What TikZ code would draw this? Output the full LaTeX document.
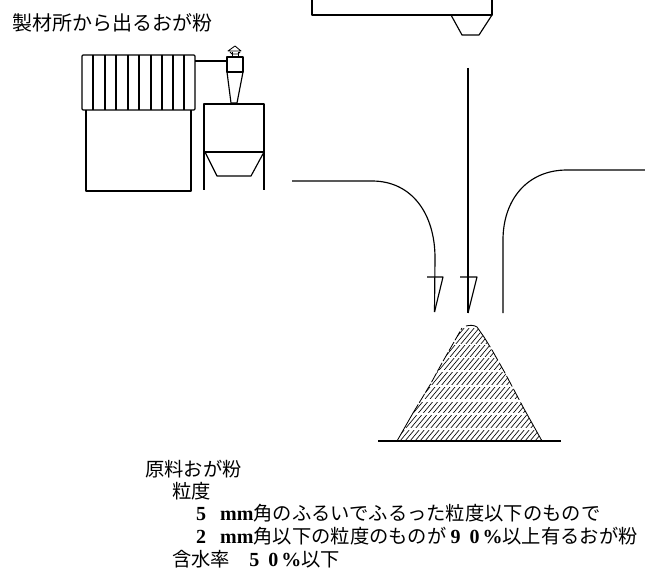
\documentclass[tikz,border=0pt]{standalone}
\usepackage{fontspec}
\setmainfont{Noto Sans CJK JP}
\newfontfamily\latinfont{Liberation Serif}[Scale=1.0]
\newcommand{\lt}[1]{{\latinfont\bfseries\fontsize{20pt}{22pt}\selectfont #1}}
\tikzset{
  ln/.style={line width=1.15pt,line join=round,black},
  thin ln/.style={line width=.85pt,line join=round,black},
  hatchln/.style={line width=.65pt,black},
  lbl/.style={anchor=base west,inner sep=0pt,font=\fontsize{19.3pt}{22pt}\selectfont,text=black},
  ttl/.style={lbl,font=\fontsize{20pt}{22pt}\selectfont}
}
\begin{document}
\begin{tikzpicture}[x=1pt,y=-1pt]
\useasboundingbox (0,0) rectangle (645,572);
\fill[white] (0,0) rectangle (645,572);
% top hopper
\draw[ln] (312,0) -- (312,15) -- (492,15) -- (492,0);
\draw[ln] (451,15) -- (462,35) -- (479,35) -- (492,15);
% dust collector
\draw[ln,rounded corners=1pt] (82,55) rectangle (195,110);
\foreach \x in {93,105,116,128,139,151,162,173,184} \draw[ln] (\x,55) -- (\x,110);
\draw[ln] (86,110) -- (86,191) -- (191,191) -- (191,110);
\draw[ln] (195,61) -- (227,61);
% cyclone
\draw[ln] (227,57) rectangle (243,72);
\draw[ln] (227,72) -- (231,103) -- (237,103) -- (243,72);
\draw[thin ln] (232,57) -- (232,52) (238,57) -- (238,52);
\draw[thin ln] (228,51) -- (235,46) -- (241,51) -- cycle;
\draw[thin ln] (230,52) -- (232,54) -- (238,54) -- (240,52);
% silo
\draw[ln] (204,190) -- (204,104) -- (264,104) -- (264,190);
\draw[ln] (204,152) -- (264,152);
\draw[ln] (205,152) -- (217,176) -- (251,176) -- (264,152);
% chutes
\coordinate (midtop) at (468,68);
\coordinate (midtip) at (468,313);
\draw[ln] (midtop) -- (midtip);
\draw[ln] (460,277) -- (477,277) -- (midtip);
\coordinate (lstart) at (292,181);
\coordinate (ltip) at (434.5,312);
\draw[ln] (lstart) -- (372,181) .. controls (412,181) and (435,214) .. (435,258) -- (ltip);
\draw[ln] (427,277) -- (443,277) -- (ltip);
\coordinate (rstart) at (645,170);
\coordinate (rend) at (503,313);
\draw[ln] (rstart) -- (567,170) .. controls (527,170) and (503,200) .. (503,240) -- (rend);
% pile
\begin{scope}
\clip (397,441) -- (413,413) -- (430,385) -- (442,363) -- (462,328) .. controls (467,325) and (473,325) .. (477,327)
  -- (492,350) -- (505,373) -- (523,407) -- (542,441) -- cycle;
\foreach \ya/\yb in {328/336,337/343,345/356,358/369,372/384,387/398,402/412,415/427,430/441}{
  \begin{scope}
  \clip (380,\ya) rectangle (560,\yb);
  \foreach \k in {0,5,...,290} \draw[hatchln] (320+\k,441) -- ++(100,-120);
  \end{scope}
}
\end{scope}
\draw[thin ln] (397,441) -- (413,413);
\draw[thin ln,dash pattern=on 10pt off 2pt] (413,413) -- (430,385) -- (442,363) -- (462,328);
\draw[thin ln] (466,326) .. controls (470,325) and (474,325) .. (477,327) -- (484,337);
\draw[thin ln] (523,407) -- (542,441);
\draw[thin ln,dash pattern=on 12pt off 3pt] (484,337) -- (492,350) -- (505,373) -- (523,407);
\draw[ln] (378,441) -- (561,441);
% text
\node[ttl] (t0) at (12,31) {製材所から出るおが粉};
\node[lbl] (t1) at (145,476) {原料おが粉};
\node[lbl] (t2) at (172,498) {粒度};
\node[lbl] (t3) at (196,520) {\lt{5\hspace{14pt}mm}角のふるいでふるった粒度以下のもので};
\node[lbl] (t4) at (196,543) {\lt{2\hspace{14pt}mm}角以下の粒度のものが\lt{\hspace{4pt}9\hspace{9pt}0\hspace{3pt}\%}以上有るおが粉};
\node[lbl] (t5) at (172,566) {含水率　\lt{5\hspace{9pt}0\hspace{3pt}\%}以下};
\end{tikzpicture}
\end{document}
